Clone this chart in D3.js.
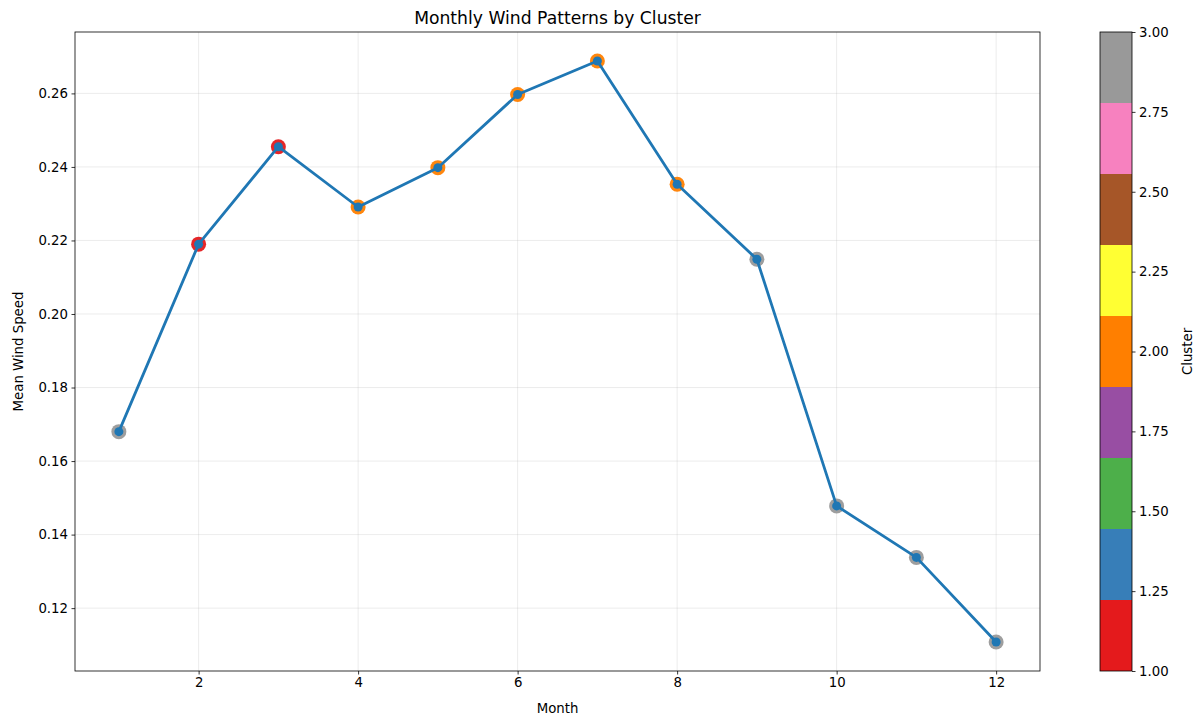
<!DOCTYPE html>
<html>
<head>
<meta charset="utf-8">
<script src="https://cdn.jsdelivr.net/npm/d3@7"></script>
<style>
body { margin: 0; background: #fff; }
text { font-family: "DejaVu Sans", sans-serif; }
</style>
</head>
<body>
<svg id="chart" width="1201" height="718"></svg>
<script>
const months = [1,2,3,4,5,6,7,8,9,10,11,12];
const windSpeed = [0.1680, 0.2190, 0.2455, 0.2291, 0.2398, 0.2597, 0.2688, 0.2353, 0.2149, 0.1478, 0.1338, 0.1108];
const clusters = [3,1,1,2,2,2,2,2,3,3,3,3];
const xTicks = [2,4,6,8,10,12];
const yTicks = [0.12,0.14,0.16,0.18,0.20,0.22,0.24,0.26];
const cbTicks = [1.00,1.25,1.50,1.75,2.00,2.25,2.50,2.75,3.00];
const set1 = ["#e41a1c","#377eb8","#4daf4a","#984ea3","#ff7f00","#ffff33","#a65628","#f781bf","#999999"];

const svg = d3.select("#chart");
const L = 75, R = 1040, T = 32, B = 671;

const yMin = d3.min(windSpeed), yMax = d3.max(windSpeed);
const yPad = (yMax - yMin) * 0.05;
const x = d3.scaleLinear().domain([1 - 11*0.05, 12 + 11*0.05]).range([L, R]);
const y = d3.scaleLinear().domain([yMin - yPad, yMax + yPad]).range([B, T]);

function cc(c) { const t = (c - 1) / 2; return set1[Math.min(8, Math.floor(t * 9))]; }

// grid
const g = svg.append("g");
g.selectAll(".gx").data(xTicks).enter().append("line")
  .attr("x1", d => x(d)).attr("x2", d => x(d)).attr("y1", T).attr("y2", B)
  .attr("stroke", "#b0b0b0").attr("stroke-opacity", 0.3).attr("stroke-width", 0.8);
g.selectAll(".gy").data(yTicks).enter().append("line")
  .attr("x1", L).attr("x2", R).attr("y1", d => y(d)).attr("y2", d => y(d))
  .attr("stroke", "#b0b0b0").attr("stroke-opacity", 0.3).attr("stroke-width", 0.8);

// axes
const xAxis = d3.axisBottom(x).tickValues(xTicks).tickFormat(d3.format("d")).tickSize(3.5).tickPadding(3.5);
const yAxis = d3.axisLeft(y).tickValues(yTicks).tickFormat(d3.format(".2f")).tickSize(3.5).tickPadding(3.5);
const gx = svg.append("g").attr("transform", `translate(0,${B})`).call(xAxis);
const gy = svg.append("g").attr("transform", `translate(${L},0)`).call(yAxis);
[gx, gy].forEach(a => {
  a.select(".domain").remove();
  a.selectAll("text").attr("font-size", 13.3).attr("fill", "#000").attr("font-family", "DejaVu Sans");
  a.selectAll("line").attr("stroke", "#000").attr("stroke-width", 0.8);
});

// frame
svg.append("rect").attr("x", L).attr("y", T).attr("width", R - L).attr("height", B - T)
  .attr("fill", "none").attr("stroke", "#000").attr("stroke-width", 0.8);

// cluster scatter
const data = months.map((m, i) => ({m, v: windSpeed[i], c: clusters[i]}));
svg.append("g").selectAll("circle").data(data).enter().append("circle")
  .attr("cx", d => x(d.m)).attr("cy", d => y(d.v)).attr("r", 7.5)
  .attr("fill", d => cc(d.c)).attr("fill-opacity", 0.95);

// line
const line = d3.line().x(d => x(d.m)).y(d => y(d.v));
svg.append("path").datum(data).attr("d", line)
  .attr("fill", "none").attr("stroke", "#1f77b4").attr("stroke-width", 2.8).attr("stroke-linejoin", "round");
svg.append("g").selectAll("circle").data(data).enter().append("circle")
  .attr("cx", d => x(d.m)).attr("cy", d => y(d.v)).attr("r", 4.5)
  .attr("fill", "#1f77b4");

// title and labels
svg.append("text").attr("x", (L + R) / 2).attr("y", 24).attr("text-anchor", "middle")
  .attr("font-size", 17.2).text("Monthly Wind Patterns by Cluster");
svg.append("text").attr("x", (L + R) / 2).attr("y", 713).attr("text-anchor", "middle")
  .attr("font-size", 13.3).text("Month");
svg.append("text").attr("transform", `translate(23,${(T + B) / 2}) rotate(-90)`).attr("text-anchor", "middle")
  .attr("font-size", 13.3).text("Mean Wind Speed");

// colorbar
const cbL = 1100, cbR = 1132;
const cy = d3.scaleLinear().domain([1, 3]).range([B, T]);
const segs = d3.range(9);
svg.append("g").selectAll("rect").data(segs).enter().append("rect")
  .attr("x", cbL).attr("width", cbR - cbL)
  .attr("y", i => cy(1 + (i + 1) * 2 / 9)).attr("height", i => cy(1 + i * 2 / 9) - cy(1 + (i + 1) * 2 / 9))
  .attr("fill", i => set1[i]).attr("shape-rendering", "crispEdges");
svg.append("rect").attr("x", cbL).attr("y", T).attr("width", cbR - cbL).attr("height", B - T)
  .attr("fill", "none").attr("stroke", "#000").attr("stroke-width", 0.8);
const cbAxis = d3.axisRight(cy).tickValues(cbTicks).tickFormat(d3.format(".2f")).tickSize(3.5).tickPadding(3.5);
const gc = svg.append("g").attr("transform", `translate(${cbR},0)`).call(cbAxis);
gc.select(".domain").remove();
gc.selectAll("text").attr("font-size", 13.3).attr("fill", "#000").attr("font-family", "DejaVu Sans");
gc.selectAll("line").attr("stroke", "#000").attr("stroke-width", 0.8);
svg.append("text").attr("transform", `translate(1192,${(T + B) / 2}) rotate(-90)`).attr("text-anchor", "middle")
  .attr("font-size", 13.3).text("Cluster");
</script>
</body>
</html>
